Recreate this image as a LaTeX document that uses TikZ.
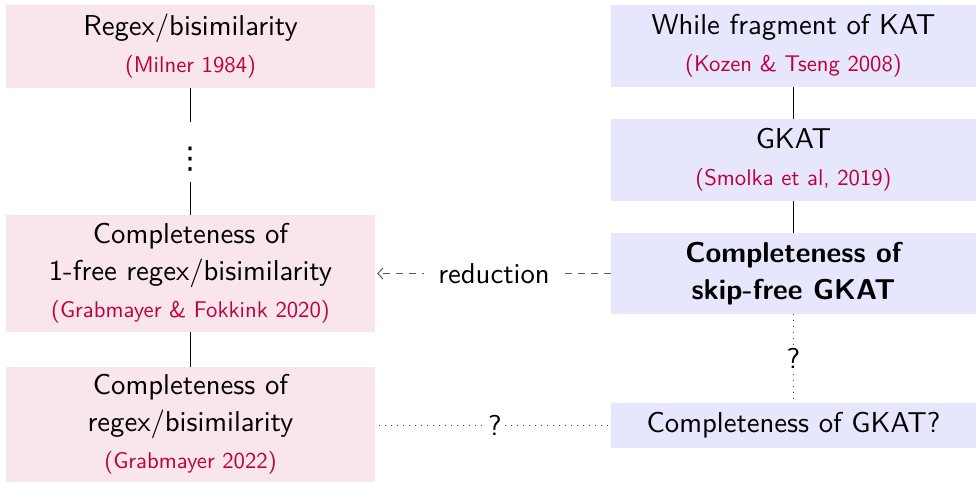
\documentclass[tikz,border=0pt]{standalone}
\usepackage{fontspec}
\setsansfont{lmsans10-regular.otf}[BoldFont=lmsans10-bold.otf]
\newfontfamily\dejavu{DejaVu Sans}
\usetikzlibrary{arrows.meta}
\definecolor{citecol}{RGB}{191,0,64}
\definecolor{pinkfill}{RGB}{249,230,236}
\definecolor{bluefill}{RGB}{230,230,252}
\newcommand{\citetxt}[1]{{\fontsize{22.7}{37}\selectfont\color{citecol}#1}}
\tikzset{
  box/.style={inner sep=0pt, align=center, font=\sffamily\fontsize{28.7}{37}\selectfont},
  lbox/.style={box, fill=pinkfill, minimum width=369pt},
  rbox/.style={box, fill=bluefill, minimum width=365pt},
  conn/.style={line width=1.1pt, black},
  maybe/.style={line width=1pt, black!75, dash pattern=on 1pt off 5pt},
  red arrow/.style={line width=1pt, black!65, dash pattern=on 7pt off 6pt, -{Straight Barb[length=5pt,width=11pt]}},
  lbl/.style={fill=white, text=black, font=\sffamily\fontsize{28.7}{33}\selectfont}
}
\begin{document}
\begin{tikzpicture}[x=1pt,y=-1pt]
\useasboundingbox (0,0) rectangle (976,482);
% left column
\node[lbox, minimum height=83pt] (A) at (190.5,46.5) {Regex/bisimilarity\\\citetxt{(Milner 1984)}};
\node[lbox, minimum height=117pt] (B) at (190.5,273.5) {Completeness of\\1-free regex/bisimilarity\\\citetxt{(Grabmayer \& Fokkink 2020)}};
\node[lbox, minimum height=115pt] (C) at (190.5,424.5) {Completeness of\\regex/bisimilarity\\\citetxt{(Grabmayer 2022)}};
% right column
\node[rbox, minimum height=82pt] (D) at (793.5,46) {While fragment of KAT\\\citetxt{(Kozen \& Tseng 2008)}};
\node[rbox, minimum height=82pt] (E) at (793.5,160) {GKAT\\\citetxt{(Smolka et al, 2019)}};
\node[rbox, minimum height=81pt] (F) at (793.5,273.5) {\bfseries Completeness of\\\bfseries skip-free GKAT};
\node[rbox, minimum height=45pt] (G) at (793.5,425.5) {Completeness of GKAT?};
% connectors
\draw[conn] (A.south) -- node[fill=white, inner sep=0pt, minimum width=10pt, minimum height=60pt] {} (B.north);
\node[font=\dejavu\fontsize{30}{33}\selectfont, inner sep=0pt] (dots) at (190,159) {⋮};
\draw[conn] (B.south) -- (C.north);
\draw[conn] (D.south) -- (E.north);
\draw[conn] (E.south) -- (F.north);
\draw[maybe] (F.south) -- node[lbl, inner sep=1pt] {?} (G.north);
\draw[maybe] ([xshift=4pt]C.east |- G.west) -- node[lbl, inner sep=1pt] {?} (G.west);
\draw[red arrow] (F.west) -- node[lbl, inner xsep=14pt] {reduction} ([xshift=2pt]B.east);
\end{tikzpicture}
\end{document}
